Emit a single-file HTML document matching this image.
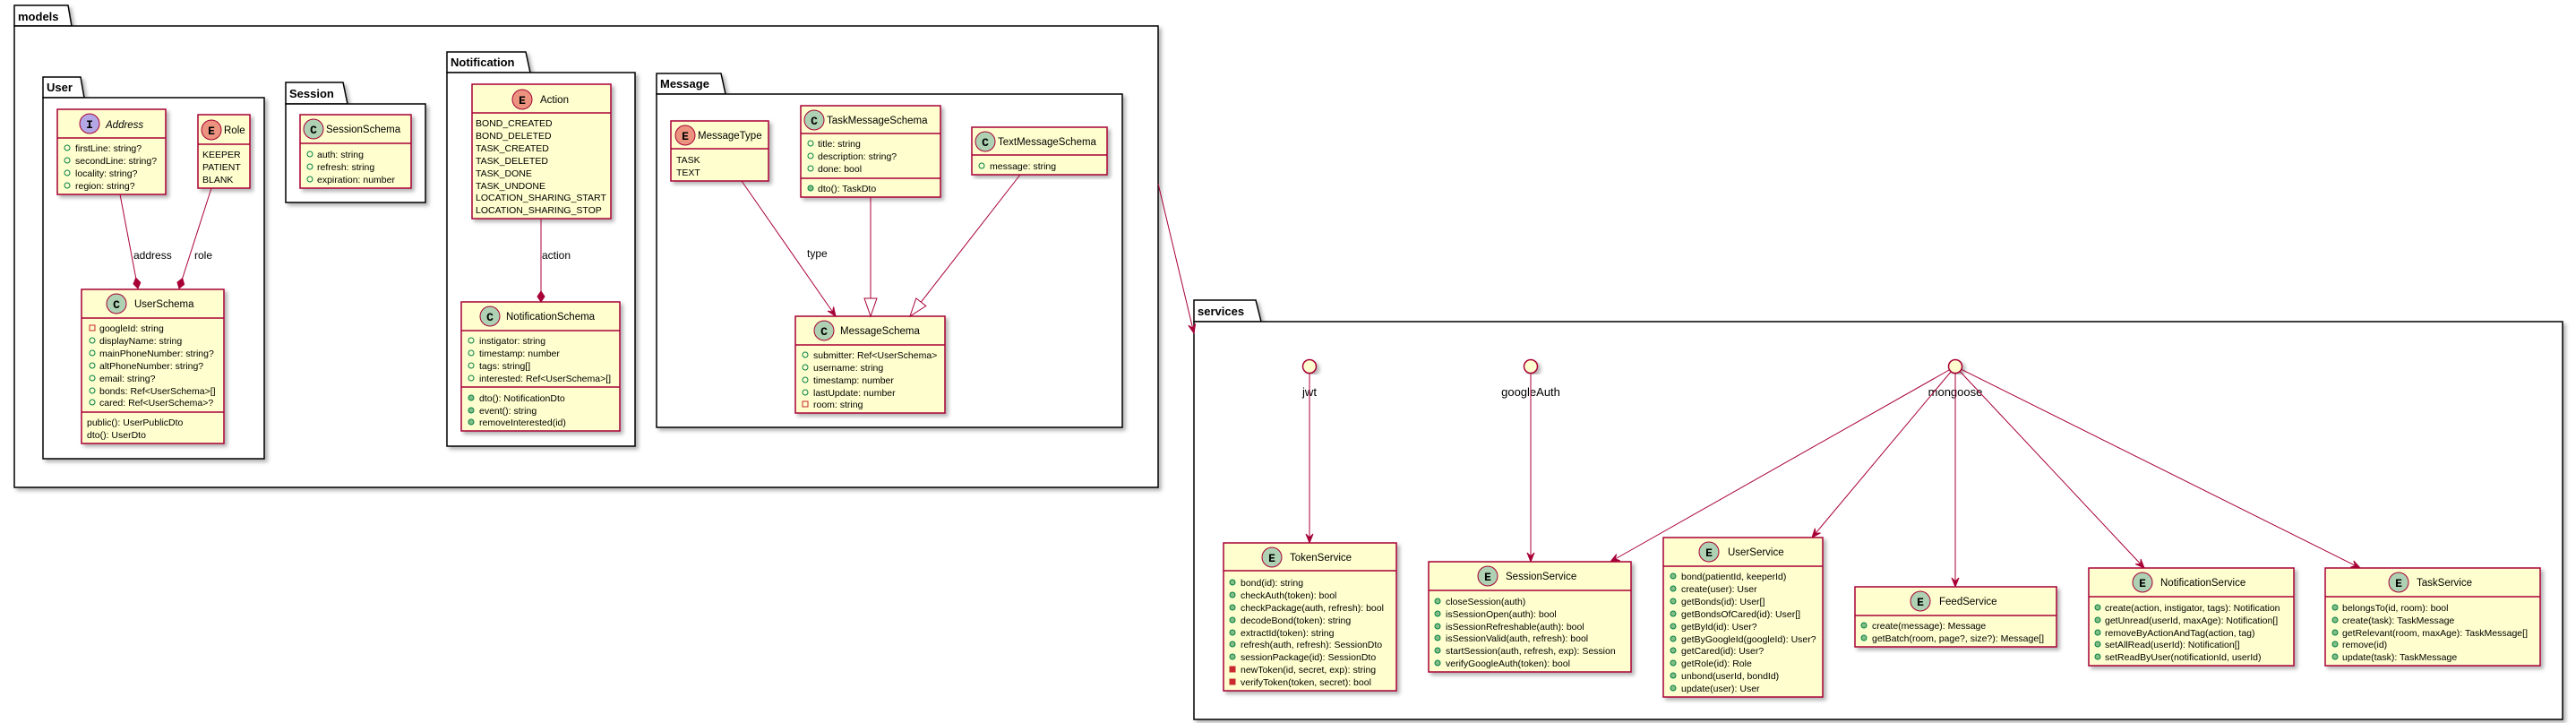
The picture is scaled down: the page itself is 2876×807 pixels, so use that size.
<!DOCTYPE html>
<html><head><meta charset="utf-8"><style>
html,body{margin:0;padding:0;background:#fff;}
svg{display:block;}
text{font-family:"Liberation Sans",sans-serif;fill:#000;}
.m{font-size:10.5px;}
.n{font-size:11.5px;}
.p{font-size:13px;font-weight:bold;}
.l{font-size:12px;}
.g{font-family:"Liberation Mono",monospace;font-size:13px;font-weight:bold;text-anchor:middle;}
.b{fill:#FEFECE;stroke:#A80036;stroke-width:1.5;}
.s{stroke:#A80036;stroke-width:1.5;}
.pk{fill:#fff;stroke:#000;stroke-width:1.5;}
.fo{fill:none;stroke:#038048;stroke-width:1;}
.mo{fill:#84BE84;stroke:#038048;stroke-width:1;}
.pf{fill:none;stroke:#C82930;stroke-width:1;}
.pm{fill:#C82930;stroke:#C82930;stroke-width:1;}
.e{stroke:#A80036;stroke-width:1;fill:none;}
.h{fill:#A80036;stroke:#A80036;stroke-width:1;}
</style></head><body>
<svg width="2876" height="807" viewBox="0 0 2876 807" xmlns="http://www.w3.org/2000/svg">
<defs><filter id="sh" x="-5%" y="-5%" width="115%" height="115%"><feDropShadow dx="3" dy="3" stdDeviation="2" flood-color="#000" flood-opacity="0.3"/></filter></defs>

<g filter="url(#sh)">
<polygon class="pk" points="16,29 16,6 76,6 80,29"/><rect class="pk" x="16" y="29" width="1277" height="515"/>
<polygon class="pk" points="1333,359 1333,335 1402,335 1408,359"/><rect class="pk" x="1333" y="359" width="1528" height="444"/>
</g>
<text class="p" x="20" y="23">models</text>
<text class="p" x="1337" y="352">services</text>
<g filter="url(#sh)">
<polygon class="pk" points="48,109 48,86 90,86 94,109"/><rect class="pk" x="48" y="109" width="247" height="403"/>
<polygon class="pk" points="319,116 319,92 383,92 388,116"/><rect class="pk" x="319" y="116" width="156" height="110"/>
<polygon class="pk" points="499,81 499,58 587,58 592,81"/><rect class="pk" x="499" y="81" width="210" height="417"/>
<polygon class="pk" points="733,105 733,82 805,82 810,105"/><rect class="pk" x="733" y="105" width="520" height="372"/>
</g>
<text class="p" x="52" y="102">User</text>
<text class="p" x="323" y="109">Session</text>
<text class="p" x="503" y="74">Notification</text>
<text class="p" x="737" y="98">Message</text>

<rect class="b" filter="url(#sh)" x="64" y="122" width="121" height="95"/>
<line class="s" x1="64" y1="154" x2="185" y2="154"/>
<circle cx="100" cy="138" r="11" fill="#B4A7E5" stroke="#A80036"/><text class="g" x="100" y="143">I</text>
<text class="n" x="118" y="143" font-style="italic">Address</text>
<circle class="fo" cx="75" cy="165" r="3"/><text class="m" x="84" y="169">firstLine: string?</text>
<circle class="fo" cx="75" cy="179" r="3"/><text class="m" x="84" y="183">secondLine: string?</text>
<circle class="fo" cx="75" cy="193" r="3"/><text class="m" x="84" y="197">locality: string?</text>
<circle class="fo" cx="75" cy="207" r="3"/><text class="m" x="84" y="211">region: string?</text>

<rect class="b" filter="url(#sh)" x="221" y="128" width="58" height="82"/>
<line class="s" x1="221" y1="161" x2="279" y2="161"/>
<circle cx="236" cy="145" r="11" fill="#EB937F" stroke="#A80036"/><text class="g" x="236" y="150">E</text>
<text class="n" x="250" y="149">Role</text>
<text class="m" x="226" y="176">KEEPER</text>
<text class="m" x="226" y="190">PATIENT</text>
<text class="m" x="226" y="204">BLANK</text>

<rect class="b" filter="url(#sh)" x="91" y="323" width="159" height="172"/>
<line class="s" x1="91" y1="355" x2="250" y2="355"/>
<line class="s" x1="91" y1="460" x2="250" y2="460"/>
<circle cx="130" cy="339" r="11" fill="#ADD1B2" stroke="#A80036"/><text class="g" x="130" y="344">C</text>
<text class="n" x="150" y="343">UserSchema</text>
<rect class="pf" x="100" y="363" width="6" height="6"/><text class="m" x="111" y="370">googleId: string</text>
<circle class="fo" cx="103" cy="380" r="3"/><text class="m" x="111" y="384">displayName: string</text>
<circle class="fo" cx="103" cy="394" r="3"/><text class="m" x="111" y="398">mainPhoneNumber: string?</text>
<circle class="fo" cx="103" cy="408" r="3"/><text class="m" x="111" y="412">altPhoneNumber: string?</text>
<circle class="fo" cx="103" cy="422" r="3"/><text class="m" x="111" y="426">email: string?</text>
<circle class="fo" cx="103" cy="436" r="3"/><text class="m" x="111" y="440">bonds: Ref&lt;UserSchema&gt;[]</text>
<circle class="fo" cx="103" cy="449" r="3"/><text class="m" x="111" y="453">cared: Ref&lt;UserSchema&gt;?</text>
<text class="m" x="97" y="475">public(): UserPublicDto</text>
<text class="m" x="97" y="489">dto(): UserDto</text>

<line class="e" x1="134" y1="217" x2="151.7" y2="310.2"/>
<polygon class="h" points="154,322 156.8,315.4 151.7,310.2 149,316.9"/>
<line class="e" x1="236" y1="210" x2="203.7" y2="310.6"/>
<polygon class="h" points="200,322 205.6,317.5 203.7,310.6 198,315.1"/>
<text class="l" x="149" y="289">address</text>
<text class="l" x="217" y="289">role</text>

<rect class="b" filter="url(#sh)" x="335" y="128" width="124" height="82"/>
<line class="s" x1="335" y1="160" x2="459" y2="160"/>
<circle cx="350" cy="144" r="11" fill="#ADD1B2" stroke="#A80036"/><text class="g" x="350" y="149">C</text>
<text class="n" x="364" y="148">SessionSchema</text>
<circle class="fo" cx="346" cy="172" r="3"/><text class="m" x="354" y="176">auth: string</text>
<circle class="fo" cx="346" cy="186" r="3"/><text class="m" x="354" y="190">refresh: string</text>
<circle class="fo" cx="346" cy="200" r="3"/><text class="m" x="354" y="204">expiration: number</text>

<rect class="b" filter="url(#sh)" x="527" y="94" width="155" height="150"/>
<line class="s" x1="527" y1="126" x2="682" y2="126"/>
<circle cx="583" cy="111" r="11" fill="#EB937F" stroke="#A80036"/><text class="g" x="583" y="116">E</text>
<text class="n" x="603" y="115">Action</text>
<text class="m" x="531" y="141">BOND_CREATED</text>
<text class="m" x="531" y="155">BOND_DELETED</text>
<text class="m" x="531" y="169">TASK_CREATED</text>
<text class="m" x="531" y="183">TASK_DELETED</text>
<text class="m" x="531" y="197">TASK_DONE</text>
<text class="m" x="531" y="211">TASK_UNDONE</text>
<text class="m" x="531" y="224">LOCATION_SHARING_START</text>
<text class="m" x="531" y="238">LOCATION_SHARING_STOP</text>

<rect class="b" filter="url(#sh)" x="515" y="337" width="177" height="144"/>
<line class="s" x1="515" y1="369" x2="692" y2="369"/>
<line class="s" x1="515" y1="432" x2="692" y2="432"/>
<circle cx="547" cy="353" r="11" fill="#ADD1B2" stroke="#A80036"/><text class="g" x="547" y="358">C</text>
<text class="n" x="565" y="357">NotificationSchema</text>
<circle class="fo" cx="526" cy="380" r="3"/><text class="m" x="535" y="384">instigator: string</text>
<circle class="fo" cx="526" cy="394" r="3"/><text class="m" x="535" y="398">timestamp: number</text>
<circle class="fo" cx="526" cy="408" r="3"/><text class="m" x="535" y="412">tags: string[]</text>
<circle class="fo" cx="526" cy="422" r="3"/><text class="m" x="535" y="426">interested: Ref&lt;UserSchema&gt;[]</text>
<circle class="mo" cx="526" cy="444" r="3"/><text class="m" x="535" y="448">dto(): NotificationDto</text>
<circle class="mo" cx="526" cy="458" r="3"/><text class="m" x="535" y="462">event(): string</text>
<circle class="mo" cx="526" cy="471" r="3"/><text class="m" x="535" y="475">removeInterested(id)</text>

<line class="e" x1="604" y1="244" x2="604" y2="325"/>
<polygon class="h" points="604,337 608,331 604,325 600,331"/>
<text class="l" x="605" y="289">action</text>

<rect class="b" filter="url(#sh)" x="749" y="135" width="109" height="67"/>
<line class="s" x1="749" y1="166" x2="858" y2="166"/>
<circle cx="765" cy="151" r="11" fill="#EB937F" stroke="#A80036"/><text class="g" x="765" y="156">E</text>
<text class="n" x="779" y="155">MessageType</text>
<text class="m" x="755" y="182">TASK</text>
<text class="m" x="755" y="196">TEXT</text>

<rect class="b" filter="url(#sh)" x="894" y="118" width="156" height="102"/>
<line class="s" x1="894" y1="149" x2="1050" y2="149"/>
<line class="s" x1="894" y1="199" x2="1050" y2="199"/>
<circle cx="909" cy="134" r="11" fill="#ADD1B2" stroke="#A80036"/><text class="g" x="909" y="139">C</text>
<text class="n" x="923" y="138">TaskMessageSchema</text>
<circle class="fo" cx="905" cy="160" r="3"/><text class="m" x="913" y="164">title: string</text>
<circle class="fo" cx="905" cy="174" r="3"/><text class="m" x="913" y="178">description: string?</text>
<circle class="fo" cx="905" cy="188" r="3"/><text class="m" x="913" y="192">done: bool</text>
<circle class="mo" cx="905" cy="210" r="3"/><text class="m" x="913" y="214">dto(): TaskDto</text>

<rect class="b" filter="url(#sh)" x="1085" y="142" width="151" height="53"/>
<line class="s" x1="1085" y1="173" x2="1236" y2="173"/>
<circle cx="1100" cy="158" r="11" fill="#ADD1B2" stroke="#A80036"/><text class="g" x="1100" y="163">C</text>
<text class="n" x="1114" y="162">TextMessageSchema</text>
<circle class="fo" cx="1096" cy="185" r="3"/><text class="m" x="1105" y="189">message: string</text>

<rect class="b" filter="url(#sh)" x="888" y="353" width="167" height="108"/>
<line class="s" x1="888" y1="385" x2="1055" y2="385"/>
<circle cx="920" cy="369" r="11" fill="#ADD1B2" stroke="#A80036"/><text class="g" x="920" y="374">C</text>
<text class="n" x="938" y="373">MessageSchema</text>
<circle class="fo" cx="899" cy="396" r="3"/><text class="m" x="908" y="400">submitter: Ref&lt;UserSchema&gt;</text>
<circle class="fo" cx="899" cy="410" r="3"/><text class="m" x="908" y="414">username: string</text>
<circle class="fo" cx="899" cy="424" r="3"/><text class="m" x="908" y="428">timestamp: number</text>
<circle class="fo" cx="899" cy="438" r="3"/><text class="m" x="908" y="442">lastUpdate: number</text>
<rect class="pf" x="896" y="448" width="6" height="6"/><text class="m" x="908" y="455">room: string</text>

<line class="e" x1="828" y1="202" x2="929.6" y2="348.1"/>
<polygon class="h" points="933,353 930.6,342.5 929.6,348.1 924,347.1"/>
<text class="l" x="901" y="287">type</text>
<line class="e" x1="972" y1="220" x2="972" y2="333"/>
<polygon points="972,353 965,333 979,333" fill="#fff" stroke="#A80036" stroke-width="1"/>
<line class="e" x1="1139" y1="195" x2="1028.3" y2="337.2"/>
<polygon points="1016,353 1033.8,341.5 1022.8,332.9" fill="#fff" stroke="#A80036" stroke-width="1"/>

<line class="e" x1="1293" y1="205" x2="1331.6" y2="366.2"/>
<polygon class="h" points="1333,372 1334.6,361.3 1331.6,366.2 1326.8,363.2"/>

<g filter="url(#sh)">
<circle cx="1462" cy="409" r="7.5" fill="#FEFECE" stroke="#A80036" stroke-width="1.5"/>
<circle cx="1709" cy="409" r="7.5" fill="#FEFECE" stroke="#A80036" stroke-width="1.5"/>
<circle cx="2183" cy="409" r="7.5" fill="#FEFECE" stroke="#A80036" stroke-width="1.5"/>
</g>
<text x="1462" y="442" font-size="13" text-anchor="middle">jwt</text>
<text x="1709" y="442" font-size="13" text-anchor="middle">googleAuth</text>
<text x="2183" y="442" font-size="13" text-anchor="middle">mongoose</text>

<line class="e" x1="1462" y1="417" x2="1462" y2="600"/>
<polygon class="h" points="1462,606 1458,596 1462,600 1466,596"/>
<line class="e" x1="1709" y1="417" x2="1709" y2="621"/>
<polygon class="h" points="1709,627 1705,617 1709,621 1713,617"/>
<line class="e" x1="2177" y1="412.5" x2="1803.2" y2="624"/>
<polygon class="h" points="1798,627 1808.7,625.6 1803.2,624 1804.7,618.6"/>
<line class="e" x1="2178.5" y1="414.4" x2="2026.9" y2="595.4"/>
<polygon class="h" points="2023,600 2032.5,594.9 2026.9,595.4 2026.4,589.8"/>
<line class="e" x1="2183" y1="417" x2="2183" y2="649"/>
<polygon class="h" points="2183,655 2179,645 2183,649 2187,645"/>
<line class="e" x1="2187.8" y1="414.1" x2="2389.9" y2="629.6"/>
<polygon class="h" points="2394,634 2390.1,624 2389.9,629.6 2384.2,629.5"/>
<line class="e" x1="2189.3" y1="412.1" x2="2629.6" y2="631.3"/>
<polygon class="h" points="2635,634 2627.8,626 2629.6,631.3 2624.3,633.1"/>

<rect class="b" filter="url(#sh)" x="1366" y="606" width="193" height="165"/>
<line class="s" x1="1366" y1="637" x2="1559" y2="637"/>
<circle cx="1420" cy="622" r="11" fill="#ADD1B2" stroke="#A80036"/><text class="g" x="1420" y="627">E</text>
<text class="n" x="1440" y="626">TokenService</text>
<circle class="mo" cx="1376" cy="650" r="3"/><text class="m" x="1385" y="654">bond(id): string</text>
<circle class="mo" cx="1376" cy="664" r="3"/><text class="m" x="1385" y="668">checkAuth(token): bool</text>
<circle class="mo" cx="1376" cy="678" r="3"/><text class="m" x="1385" y="682">checkPackage(auth, refresh): bool</text>
<circle class="mo" cx="1376" cy="692" r="3"/><text class="m" x="1385" y="696">decodeBond(token): string</text>
<circle class="mo" cx="1376" cy="706" r="3"/><text class="m" x="1385" y="710">extractId(token): string</text>
<circle class="mo" cx="1376" cy="719" r="3"/><text class="m" x="1385" y="723">refresh(auth, refresh): SessionDto</text>
<circle class="mo" cx="1376" cy="733" r="3"/><text class="m" x="1385" y="737">sessionPackage(id): SessionDto</text>
<rect class="pm" x="1373" y="744" width="6" height="6"/><text class="m" x="1385" y="751">newToken(id, secret, exp): string</text>
<rect class="pm" x="1373" y="758" width="6" height="6"/><text class="m" x="1385" y="765">verifyToken(token, secret): bool</text>

<rect class="b" filter="url(#sh)" x="1595" y="627" width="226" height="123"/>
<line class="s" x1="1595" y1="659" x2="1821" y2="659"/>
<circle cx="1661" cy="643" r="11" fill="#ADD1B2" stroke="#A80036"/><text class="g" x="1661" y="648">E</text>
<text class="n" x="1681" y="647">SessionService</text>
<circle class="mo" cx="1605" cy="671" r="3"/><text class="m" x="1614" y="675">closeSession(auth)</text>
<circle class="mo" cx="1605" cy="685" r="3"/><text class="m" x="1614" y="689">isSessionOpen(auth): bool</text>
<circle class="mo" cx="1605" cy="699" r="3"/><text class="m" x="1614" y="703">isSessionRefreshable(auth): bool</text>
<circle class="mo" cx="1605" cy="712" r="3"/><text class="m" x="1614" y="716">isSessionValid(auth, refresh): bool</text>
<circle class="mo" cx="1605" cy="726" r="3"/><text class="m" x="1614" y="730">startSession(auth, refresh, exp): Session</text>
<circle class="mo" cx="1605" cy="740" r="3"/><text class="m" x="1614" y="744">verifyGoogleAuth(token): bool</text>

<rect class="b" filter="url(#sh)" x="1857" y="600" width="178" height="178"/>
<line class="s" x1="1857" y1="632" x2="2035" y2="632"/>
<circle cx="1908" cy="616" r="11" fill="#ADD1B2" stroke="#A80036"/><text class="g" x="1908" y="621">E</text>
<text class="n" x="1929" y="620">UserService</text>
<circle class="mo" cx="1868" cy="643" r="3"/><text class="m" x="1877" y="647">bond(patientId, keeperId)</text>
<circle class="mo" cx="1868" cy="657" r="3"/><text class="m" x="1877" y="661">create(user): User</text>
<circle class="mo" cx="1868" cy="671" r="3"/><text class="m" x="1877" y="675">getBonds(id): User[]</text>
<circle class="mo" cx="1868" cy="685" r="3"/><text class="m" x="1877" y="689">getBondsOfCared(id): User[]</text>
<circle class="mo" cx="1868" cy="699" r="3"/><text class="m" x="1877" y="703">getById(id): User?</text>
<circle class="mo" cx="1868" cy="713" r="3"/><text class="m" x="1877" y="717">getByGoogleId(googleId): User?</text>
<circle class="mo" cx="1868" cy="726" r="3"/><text class="m" x="1877" y="730">getCared(id): User?</text>
<circle class="mo" cx="1868" cy="740" r="3"/><text class="m" x="1877" y="744">getRole(id): Role</text>
<circle class="mo" cx="1868" cy="754" r="3"/><text class="m" x="1877" y="758">unbond(userId, bondId)</text>
<circle class="mo" cx="1868" cy="768" r="3"/><text class="m" x="1877" y="772">update(user): User</text>

<rect class="b" filter="url(#sh)" x="2071" y="655" width="225" height="67"/>
<line class="s" x1="2071" y1="687" x2="2296" y2="687"/>
<circle cx="2144" cy="671" r="11" fill="#ADD1B2" stroke="#A80036"/><text class="g" x="2144" y="676">E</text>
<text class="n" x="2165" y="675">FeedService</text>
<circle class="mo" cx="2081" cy="698" r="3"/><text class="m" x="2090" y="702">create(message): Message</text>
<circle class="mo" cx="2081" cy="712" r="3"/><text class="m" x="2090" y="716">getBatch(room, page?, size?): Message[]</text>

<rect class="b" filter="url(#sh)" x="2332" y="634" width="229" height="109"/>
<line class="s" x1="2332" y1="666" x2="2561" y2="666"/>
<circle cx="2392" cy="650" r="11" fill="#ADD1B2" stroke="#A80036"/><text class="g" x="2392" y="655">E</text>
<text class="n" x="2412" y="654">NotificationService</text>
<circle class="mo" cx="2342" cy="678" r="3"/><text class="m" x="2350" y="682">create(action, instigator, tags): Notification</text>
<circle class="mo" cx="2342" cy="692" r="3"/><text class="m" x="2350" y="696">getUnread(userId, maxAge): Notification[]</text>
<circle class="mo" cx="2342" cy="706" r="3"/><text class="m" x="2350" y="710">removeByActionAndTag(action, tag)</text>
<circle class="mo" cx="2342" cy="719" r="3"/><text class="m" x="2350" y="723">setAllRead(userId): Notification[]</text>
<circle class="mo" cx="2342" cy="733" r="3"/><text class="m" x="2350" y="737">setReadByUser(notificationId, userId)</text>

<rect class="b" filter="url(#sh)" x="2596" y="634" width="240" height="109"/>
<line class="s" x1="2596" y1="666" x2="2836" y2="666"/>
<circle cx="2678" cy="650" r="11" fill="#ADD1B2" stroke="#A80036"/><text class="g" x="2678" y="655">E</text>
<text class="n" x="2698" y="654">TaskService</text>
<circle class="mo" cx="2607" cy="678" r="3"/><text class="m" x="2615" y="682">belongsTo(id, room): bool</text>
<circle class="mo" cx="2607" cy="692" r="3"/><text class="m" x="2615" y="696">create(task): TaskMessage</text>
<circle class="mo" cx="2607" cy="706" r="3"/><text class="m" x="2615" y="710">getRelevant(room, maxAge): TaskMessage[]</text>
<circle class="mo" cx="2607" cy="719" r="3"/><text class="m" x="2615" y="723">remove(id)</text>
<circle class="mo" cx="2607" cy="733" r="3"/><text class="m" x="2615" y="737">update(task): TaskMessage</text>
</svg>
</body></html>
